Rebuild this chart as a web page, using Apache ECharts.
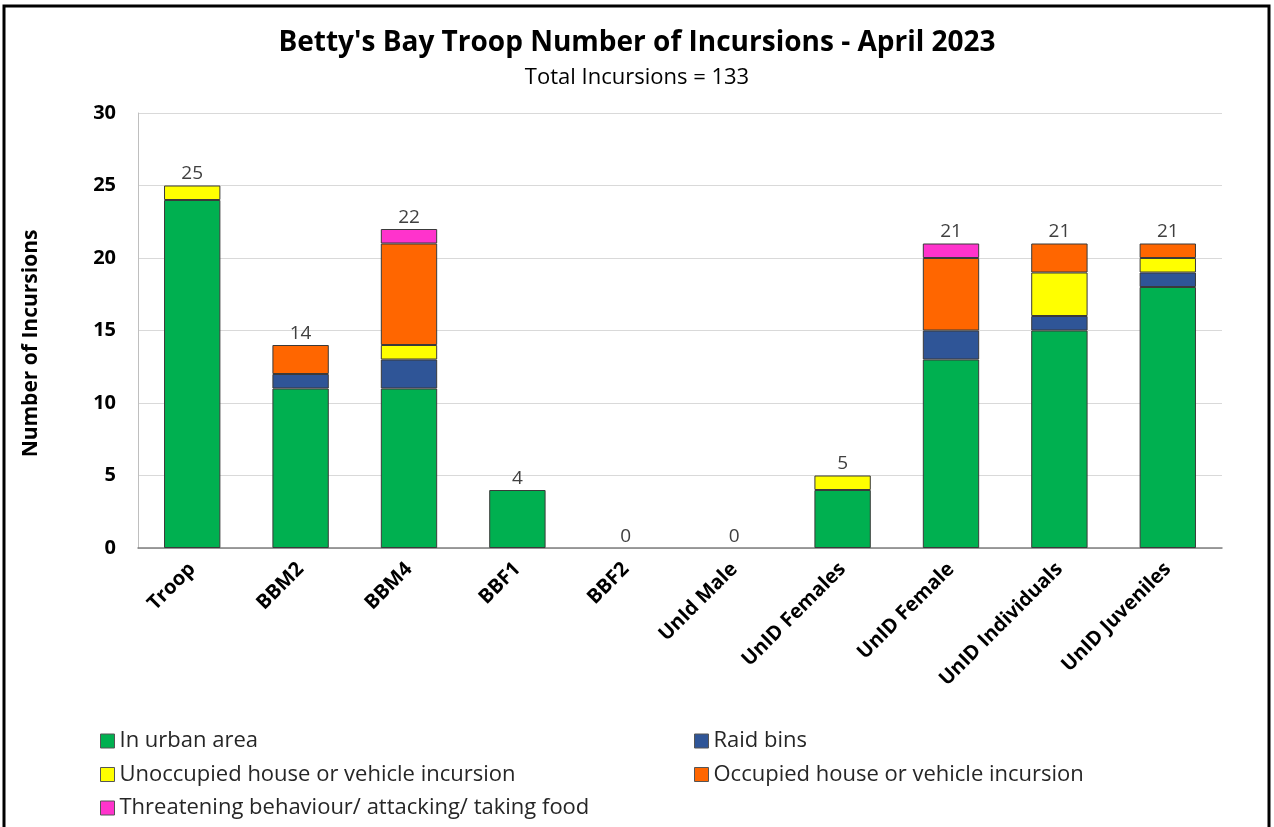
<!DOCTYPE html>
<html>
<head>
<meta charset="utf-8">
<script src="https://cdn.jsdelivr.net/npm/echarts@6/dist/echarts.min.js"></script>
<style>
html,body{margin:0;padding:0;background:#fff;}
#chart{width:1274px;height:827px;}
</style>
</head>
<body>
<div id="chart"></div>
<script>
const categories = ['Troop','BBM2','BBM4','BBF1','BBF2','UnId Male','UnID Females','UnID Female','UnID Individuals','UnID Juveniles'];
const urban      = [24, 11, 11, 4, 0, 0, 4, 13, 15, 18];
const raidBins   = [0, 1, 2, 0, 0, 0, 0, 2, 1, 1];
const unoccupied = [1, 0, 1, 0, 0, 0, 1, 0, 3, 1];
const occupied   = [0, 2, 7, 0, 0, 0, 0, 5, 2, 1];
const threat     = [0, 0, 1, 0, 0, 0, 0, 1, 0, 0];
const yTicks = [0, 5, 10, 15, 20, 25, 30];

const totals = categories.map((c, i) => urban[i] + raidBins[i] + unoccupied[i] + occupied[i] + threat[i]);
const grand = totals.reduce((a, b) => a + b, 0);

const FONT = '"Open Sans", "Noto Sans", sans-serif';
const seriesDefs = [
  {name: 'In urban area', data: urban, color: '#00b050'},
  {name: 'Raid bins', data: raidBins, color: '#2f5597'},
  {name: 'Unoccupied house or vehicle incursion', data: unoccupied, color: '#ffff00'},
  {name: 'Occupied house or vehicle incursion', data: occupied, color: '#ff6600'},
  {name: 'Threatening behaviour/ attacking/ taking food', data: threat, color: '#ff33cc'}
];

const series = seriesDefs.map(s => ({
  name: s.name, type: 'bar', stack: 'all', barWidth: '52%',
  data: s.data.map(v => v === 0 ? null : v),
  itemStyle: {color: s.color, borderColor: '#3a3a3a', borderWidth: 1},
  emphasis: {disabled: true}
}));
series.push({
  name: 'Total', type: 'bar', barWidth: '52%', barGap: '-100%',
  data: totals, z: 1,
  itemStyle: {color: 'rgba(0,0,0,0)'},
  label: {show: true, position: 'top', distance: 2, color: '#404040', fontSize: 19, fontFamily: FONT},
  silent: true
});

const legendText = {fontSize: 22, color: '#262626', fontFamily: FONT};
const chart = echarts.init(document.getElementById('chart'));
chart.setOption({
  animation: false,
  title: {
    text: "Betty's Bay Troop Number of Incursions - April 2023",
    subtext: 'Total Incursions = ' + grand,
    left: 'center', top: 24, itemGap: 10,
    textStyle: {fontSize: 28, fontWeight: 'bold', color: '#000', fontFamily: FONT},
    subtextStyle: {fontSize: 22, color: '#000', fontFamily: FONT}
  },
  graphic: [{
    type: 'rect', shape: {x: 4, y: 6, width: 1265, height: 840},
    style: {fill: 'none', stroke: '#000', lineWidth: 3}, silent: true
  }],
  legend: [{
    data: [seriesDefs[0].name, seriesDefs[2].name, seriesDefs[4].name],
    orient: 'vertical', left: 95, top: 725, itemGap: 11.5,
    itemWidth: 14, itemHeight: 14, icon: 'rect', textStyle: legendText,
    itemStyle: {borderColor: '#555', borderWidth: 1}
  }, {
    data: [seriesDefs[1].name, seriesDefs[3].name],
    orient: 'vertical', left: 689, top: 725, itemGap: 11.5,
    itemWidth: 14, itemHeight: 14, icon: 'rect', textStyle: legendText,
    itemStyle: {borderColor: '#555', borderWidth: 1}
  }],
  grid: {left: 138, right: 52, top: 113, bottom: 279},
  xAxis: {
    type: 'category', data: categories,
    axisLine: {lineStyle: {color: '#7f7f7f', width: 1.5}},
    axisTick: {show: false},
    axisLabel: {rotate: 45, margin: 18, fontSize: 20, fontWeight: 'bold', color: '#000', fontFamily: FONT, interval: 0}
  },
  yAxis: {
    type: 'value', min: 0, max: 30, interval: 5,
    name: 'Number of Incursions', nameLocation: 'middle', nameGap: 96, nameRotate: 90,
    nameTextStyle: {fontSize: 21, fontWeight: 'bold', color: '#000', fontFamily: FONT, padding: [0, 26, 0, 0]},
    axisLine: {show: true, lineStyle: {color: '#bfbfbf'}},
    axisTick: {show: false},
    splitLine: {lineStyle: {color: '#d9d9d9'}},
    axisLabel: {margin: 22, fontSize: 20, fontWeight: 'bold', color: '#000', fontFamily: FONT,
      formatter: v => yTicks.includes(v) ? String(v) : ''}
  },
  series: series
});
</script>
</body>
</html>
